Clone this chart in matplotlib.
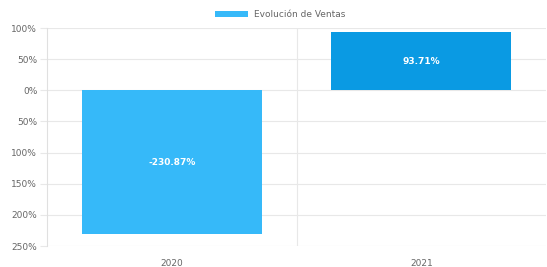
import matplotlib
matplotlib.use("Agg")
import matplotlib.pyplot as plt
from matplotlib.patches import Patch

categories = ["2020", "2021"]
values = [-230.87, 93.71]
bar_colors = ["#36b9f9", "#0a9ae3"]
y_ticks = [100, 50, 0, -50, -100, -150, -200, -250]
y_tick_labels = ["100%", "50%", "0%", "50%", "100%", "150%", "200%", "250%"]
legend_label = "Evolución de Ventas"

fig = plt.figure(figsize=(5.47, 2.67), dpi=100)
ax = fig.add_axes([47/547, 1-246/267, (546-47)/547, (246-28)/267])

x = list(range(len(categories)))
ax.bar(x, values, width=0.72, color=bar_colors, zorder=3)
for xi, v in zip(x, values):
    ax.text(xi, v/2, f"{v:.2f}%", ha="center", va="center",
            color="white", fontsize=6.5, fontweight="bold", zorder=4)

ax.set_xlim(-0.5, 1.5)
ax.set_ylim(-250, 100)
ax.set_yticks(y_ticks)
ax.set_yticklabels(y_tick_labels)
ax.set_xticks(x)
ax.set_xticklabels(categories)
ax.set_xticks([0.5], minor=True)
ax.grid(axis="y", color="#e8e8e8", linewidth=0.8, zorder=0)
ax.grid(axis="x", which="minor", color="#e8e8e8", linewidth=0.8, zorder=0)
ax.tick_params(axis="y", labelsize=6.5, labelcolor="#666666", color="#e8e8e8", length=5, width=0.8, pad=2)
ax.tick_params(axis="x", which="major", labelsize=6.5, labelcolor="#666666", length=0, pad=9)
ax.tick_params(axis="x", which="minor", length=0)
for side in ["top", "right", "bottom"]:
    ax.spines[side].set_visible(False)
ax.spines["left"].set_color("#e0e0e0")
ax.spines["left"].set_linewidth(0.8)

handle = Patch(facecolor=bar_colors[0], edgecolor="none")
fig.legend([handle], [legend_label], loc="center", bbox_to_anchor=(0.512, 1-15/267),
           frameon=False, fontsize=6.5, handlelength=3.7, handleheight=0.7,
           handletextpad=0.7, labelcolor="#666666")

fig.savefig("out.png", dpi=100, facecolor="white")
